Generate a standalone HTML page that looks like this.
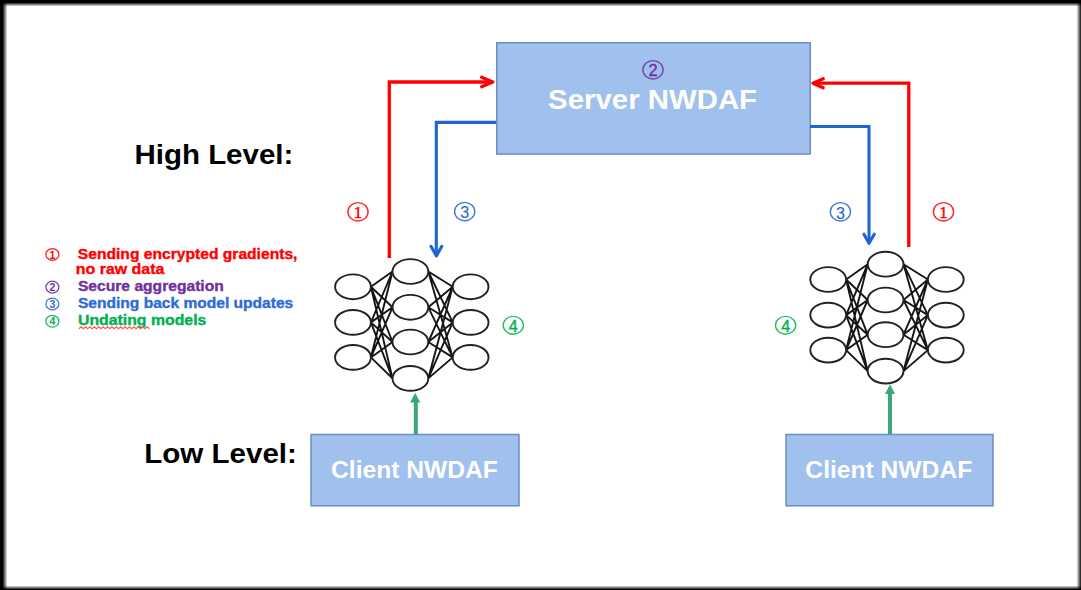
<!DOCTYPE html>
<html><head><meta charset="utf-8"><style>
html,body{margin:0;padding:0;background:#fff;width:1081px;height:590px;overflow:hidden;position:relative;}
svg{display:block;position:absolute;left:0;top:0;}
.b{position:absolute;}
</style></head><body>
<svg width="1081" height="590" viewBox="0 0 1081 590">
<rect x="496.75" y="42.75" width="313.5" height="111.3" fill="#a0c0ee" stroke="#6c8cc2" stroke-width="1.5"/>
<text transform="translate(548.11,108.8) scale(1.0496,1)" x="0" y="0" font-size="28" font-weight="bold" fill="#fff" font-family="Liberation Sans" >Server NWDAF</text>
<ellipse cx="653" cy="69.8" rx="10.1" ry="9.2" fill="none" stroke="#7030a0" stroke-width="1.4" stroke-opacity="0.85"/><text x="653" y="76.1" font-size="16.5" fill="#7030a0" stroke="#7030a0" stroke-width="0.3" text-anchor="middle" font-family="Liberation Sans">2</text>
<rect x="311.05" y="434.5" width="207.95" height="71.3" fill="#a0c0ee" stroke="#6c8cc2" stroke-width="1.5"/>
<text transform="translate(331.05,477.9) scale(1.0480,1)" x="0" y="0" font-size="23.5" font-weight="bold" fill="#fff" font-family="Liberation Sans" >Client NWDAF</text>
<rect x="786.05" y="434.5" width="206.95" height="71.3" fill="#a0c0ee" stroke="#6c8cc2" stroke-width="1.5"/>
<text transform="translate(805.35,477.9) scale(1.0480,1)" x="0" y="0" font-size="23.5" font-weight="bold" fill="#fff" font-family="Liberation Sans" >Client NWDAF</text>
<path d="M389.3,258V82H492" stroke="#ff0000" stroke-width="3.3" fill="none"/>
<path d="M481.6,77.3L492.8,82L481.6,86.7" stroke="#ff0000" stroke-width="3.3" fill="none" stroke-linecap="round" stroke-linejoin="round"/>
<path d="M496,122.4H436.3V255" stroke="#1f64d2" stroke-width="3.1" fill="none"/>
<path d="M431,246.3L436.4,255.9L441.8,246.3" stroke="#1f64d2" stroke-width="3.1" fill="none" stroke-linecap="round" stroke-linejoin="round"/>
<path d="M908.8,247V83.2H813" stroke="#ff0000" stroke-width="3.3" fill="none"/>
<path d="M823.2,78.8L813,83.2L823.2,87.8" stroke="#ff0000" stroke-width="3.3" fill="none" stroke-linecap="round" stroke-linejoin="round"/>
<path d="M810,126.5H869V243" stroke="#1f64d2" stroke-width="3.1" fill="none"/>
<path d="M864,234.2L869,243.3L874.3,234.2" stroke="#1f64d2" stroke-width="3.1" fill="none" stroke-linecap="round" stroke-linejoin="round"/>
<ellipse cx="358" cy="211.8" rx="10.1" ry="9.2" fill="none" stroke="#ff0000" stroke-width="1.4" stroke-opacity="0.85"/><text x="358" y="217.9" font-size="16.8" fill="#ff0000" stroke="#ff0000" stroke-width="0.45" text-anchor="middle" font-family="Liberation Serif">1</text>
<ellipse cx="464.7" cy="211.6" rx="10.1" ry="9.2" fill="none" stroke="#1f64d2" stroke-width="1.4" stroke-opacity="0.85"/><text x="464.7" y="218.29999999999998" font-size="16" fill="#1f64d2" stroke="#1f64d2" stroke-width="0.1" text-anchor="middle" font-family="Liberation Sans">3</text>
<ellipse cx="840.4" cy="211.8" rx="10.1" ry="9.2" fill="none" stroke="#1f64d2" stroke-width="1.4" stroke-opacity="0.85"/><text x="840.4" y="218.5" font-size="16" fill="#1f64d2" stroke="#1f64d2" stroke-width="0.1" text-anchor="middle" font-family="Liberation Sans">3</text>
<ellipse cx="943.5" cy="211.8" rx="10.1" ry="9.2" fill="none" stroke="#ff0000" stroke-width="1.4" stroke-opacity="0.85"/><text x="943.5" y="217.9" font-size="16.8" fill="#ff0000" stroke="#ff0000" stroke-width="0.45" text-anchor="middle" font-family="Liberation Serif">1</text>
<ellipse cx="513.3" cy="325.3" rx="10.1" ry="8.9" fill="none" stroke="#00b050" stroke-width="1.4" stroke-opacity="0.85"/><text x="513.3" y="331.7" font-size="16" fill="#00b050" stroke="#00b050" stroke-width="0.4" text-anchor="middle" font-family="Liberation Sans">4</text>
<ellipse cx="785.6" cy="325.3" rx="10.1" ry="8.9" fill="none" stroke="#00b050" stroke-width="1.4" stroke-opacity="0.85"/><text x="785.6" y="331.7" font-size="16" fill="#00b050" stroke="#00b050" stroke-width="0.4" text-anchor="middle" font-family="Liberation Sans">4</text>
<path d="M370.9,286.8L392.5,271.5M370.9,286.8L392.5,307.3M370.9,286.8L392.5,342.0M370.9,286.8L392.5,378.4M370.9,322.4L392.5,271.5M370.9,322.4L392.5,307.3M370.9,322.4L392.5,342.0M370.9,322.4L392.5,378.4M370.9,357.4L392.5,271.5M370.9,357.4L392.5,307.3M370.9,357.4L392.5,342.0M370.9,357.4L392.5,378.4M428.3,271.5L452.7,286.8M428.3,271.5L452.7,322.4M428.3,271.5L452.7,357.4M428.3,307.3L452.7,286.8M428.3,307.3L452.7,322.4M428.3,307.3L452.7,357.4M428.3,342.0L452.7,286.8M428.3,342.0L452.7,322.4M428.3,342.0L452.7,357.4M428.3,378.4L452.7,286.8M428.3,378.4L452.7,322.4M428.3,378.4L452.7,357.4" stroke="#151515" stroke-width="1.9" fill="none"/>
<ellipse cx="353.0" cy="286.8" rx="17.9" ry="12.4" fill="#fff" stroke="#222" stroke-width="1.9"/>
<ellipse cx="353.0" cy="322.4" rx="17.9" ry="12.4" fill="#fff" stroke="#222" stroke-width="1.9"/>
<ellipse cx="353.0" cy="357.4" rx="17.9" ry="12.4" fill="#fff" stroke="#222" stroke-width="1.9"/>
<ellipse cx="410.4" cy="271.5" rx="17.9" ry="12.4" fill="#fff" stroke="#222" stroke-width="1.9"/>
<ellipse cx="410.4" cy="307.3" rx="17.9" ry="12.4" fill="#fff" stroke="#222" stroke-width="1.9"/>
<ellipse cx="410.4" cy="342.0" rx="17.9" ry="12.4" fill="#fff" stroke="#222" stroke-width="1.9"/>
<ellipse cx="410.4" cy="378.4" rx="17.9" ry="12.4" fill="#fff" stroke="#222" stroke-width="1.9"/>
<ellipse cx="470.6" cy="286.8" rx="17.9" ry="12.4" fill="#fff" stroke="#222" stroke-width="1.9"/>
<ellipse cx="470.6" cy="322.4" rx="17.9" ry="12.4" fill="#fff" stroke="#222" stroke-width="1.9"/>
<ellipse cx="470.6" cy="357.4" rx="17.9" ry="12.4" fill="#fff" stroke="#222" stroke-width="1.9"/>
<path d="M846.1,279.5L867.7,264.2M846.1,279.5L867.7,300.0M846.1,279.5L867.7,334.7M846.1,279.5L867.7,371.1M846.1,315.1L867.7,264.2M846.1,315.1L867.7,300.0M846.1,315.1L867.7,334.7M846.1,315.1L867.7,371.1M846.1,350.1L867.7,264.2M846.1,350.1L867.7,300.0M846.1,350.1L867.7,334.7M846.1,350.1L867.7,371.1M903.5,264.2L927.9,279.5M903.5,264.2L927.9,315.1M903.5,264.2L927.9,350.1M903.5,300.0L927.9,279.5M903.5,300.0L927.9,315.1M903.5,300.0L927.9,350.1M903.5,334.7L927.9,279.5M903.5,334.7L927.9,315.1M903.5,334.7L927.9,350.1M903.5,371.1L927.9,279.5M903.5,371.1L927.9,315.1M903.5,371.1L927.9,350.1" stroke="#151515" stroke-width="1.9" fill="none"/>
<ellipse cx="828.2" cy="279.5" rx="17.9" ry="12.4" fill="#fff" stroke="#222" stroke-width="1.9"/>
<ellipse cx="828.2" cy="315.1" rx="17.9" ry="12.4" fill="#fff" stroke="#222" stroke-width="1.9"/>
<ellipse cx="828.2" cy="350.1" rx="17.9" ry="12.4" fill="#fff" stroke="#222" stroke-width="1.9"/>
<ellipse cx="885.6" cy="264.2" rx="17.9" ry="12.4" fill="#fff" stroke="#222" stroke-width="1.9"/>
<ellipse cx="885.6" cy="300.0" rx="17.9" ry="12.4" fill="#fff" stroke="#222" stroke-width="1.9"/>
<ellipse cx="885.6" cy="334.7" rx="17.9" ry="12.4" fill="#fff" stroke="#222" stroke-width="1.9"/>
<ellipse cx="885.6" cy="371.1" rx="17.9" ry="12.4" fill="#fff" stroke="#222" stroke-width="1.9"/>
<ellipse cx="945.8" cy="279.5" rx="17.9" ry="12.4" fill="#fff" stroke="#222" stroke-width="1.9"/>
<ellipse cx="945.8" cy="315.1" rx="17.9" ry="12.4" fill="#fff" stroke="#222" stroke-width="1.9"/>
<ellipse cx="945.8" cy="350.1" rx="17.9" ry="12.4" fill="#fff" stroke="#222" stroke-width="1.9"/>
<path d="M415.8,434V400" stroke="#3aa876" stroke-width="4" fill="none"/>
<path d="M410.1,402.4L415.2,392.7L420.2,402.4Z" fill="#3aa876"/>
<path d="M890,434V392" stroke="#3aa876" stroke-width="4" fill="none"/>
<path d="M885,394L890,384.2L895,394Z" fill="#3aa876"/>
<text transform="translate(134.50,163.8) scale(1.0523,1)" x="0" y="0" font-size="28" font-weight="bold" fill="#000" font-family="Liberation Sans" >High Level:</text>
<text transform="translate(144.29,463) scale(1.0550,1)" x="0" y="0" font-size="28" font-weight="bold" fill="#000" font-family="Liberation Sans" >Low Level:</text>
<ellipse cx="52.4" cy="254.4" rx="6.5" ry="5.9" fill="none" stroke="#ff0000" stroke-width="1.25" stroke-opacity="0.9"/>
<text x="52.4" y="258.5" font-size="10.5" font-weight="bold" fill="#ff0000" text-anchor="middle" font-family="Liberation Sans">1</text>
<text transform="translate(77.84,258.5) scale(1.1161,1)" x="0" y="0" font-size="14" font-weight="bold" fill="#ff0000" font-family="Liberation Sans" stroke="#ff0000" stroke-width="0.35">Sending encrypted gradients,</text>
<text transform="translate(75.86,274.3) scale(1.1375,1)" x="0" y="0" font-size="14" font-weight="bold" fill="#ff0000" font-family="Liberation Sans" stroke="#ff0000" stroke-width="0.35">no raw data</text>
<ellipse cx="52.4" cy="287.09999999999997" rx="6.5" ry="5.9" fill="none" stroke="#7030a0" stroke-width="1.25" stroke-opacity="0.9"/>
<text x="52.4" y="291.2" font-size="10.5" font-weight="bold" fill="#7030a0" text-anchor="middle" font-family="Liberation Sans">2</text>
<text transform="translate(77.94,291.2) scale(1.1164,1)" x="0" y="0" font-size="14" font-weight="bold" fill="#7030a0" font-family="Liberation Sans" stroke="#7030a0" stroke-width="0.35">Secure aggregation</text>
<ellipse cx="52.4" cy="303.9" rx="6.5" ry="5.9" fill="none" stroke="#2e6bd8" stroke-width="1.25" stroke-opacity="0.9"/>
<text x="52.4" y="308.0" font-size="10.5" font-weight="bold" fill="#2e6bd8" text-anchor="middle" font-family="Liberation Sans">3</text>
<text transform="translate(77.94,308.0) scale(1.1123,1)" x="0" y="0" font-size="14" font-weight="bold" fill="#2e6bd8" font-family="Liberation Sans" stroke="#2e6bd8" stroke-width="0.35">Sending back model updates</text>
<ellipse cx="52.4" cy="321.2" rx="6.5" ry="5.9" fill="none" stroke="#00b050" stroke-width="1.25" stroke-opacity="0.9"/>
<text x="52.4" y="325.3" font-size="10.5" font-weight="bold" fill="#00b050" text-anchor="middle" font-family="Liberation Sans">4</text>
<text transform="translate(77.95,325.3) scale(1.1314,1)" x="0" y="0" font-size="14" font-weight="bold" fill="#00b050" font-family="Liberation Sans" stroke="#00b050" stroke-width="0.35">Undating models</text>
<path d="M78.9,328.7l2.2,-1.9l2.2,1.9l2.2,-1.9l2.2,1.9l2.2,-1.9l2.2,1.9l2.2,-1.9l2.2,1.9l2.2,-1.9l2.2,1.9l2.2,-1.9l2.2,1.9l2.2,-1.9l2.2,1.9l2.2,-1.9l2.2,1.9l2.2,-1.9l2.2,1.9l2.2,-1.9l2.2,1.9l2.2,-1.9l2.2,1.9l2.2,-1.9l2.2,1.9l2.2,-1.9l2.2,1.9l2.2,-1.9l2.2,1.9l2.2,-1.9l2.2,1.9l2.2,-1.9l2.2,1.9" stroke="#ff5a5a" stroke-width="1.25" fill="none"/>
</svg>
<div class="b" style="left:0;top:0;width:8px;height:590px;background:linear-gradient(to right,rgba(0,0,0,1) 2.5px,rgba(0,0,0,0) 7.5px)"></div>
<div class="b" style="left:0;top:0;width:1081px;height:7px;background:linear-gradient(to bottom,rgba(0,0,0,1) 2.5px,rgba(0,0,0,0) 6.5px)"></div>
<div class="b" style="right:0;top:0;width:6px;height:590px;background:linear-gradient(to left,rgba(0,0,0,0.82) 0.5px,rgba(0,0,0,0) 4.5px)"></div>
<div class="b" style="left:0;bottom:0;width:1081px;height:6px;background:linear-gradient(to top,rgba(0,0,0,1) 0.5px,rgba(0,0,0,0) 4.5px)"></div>
</body></html>
